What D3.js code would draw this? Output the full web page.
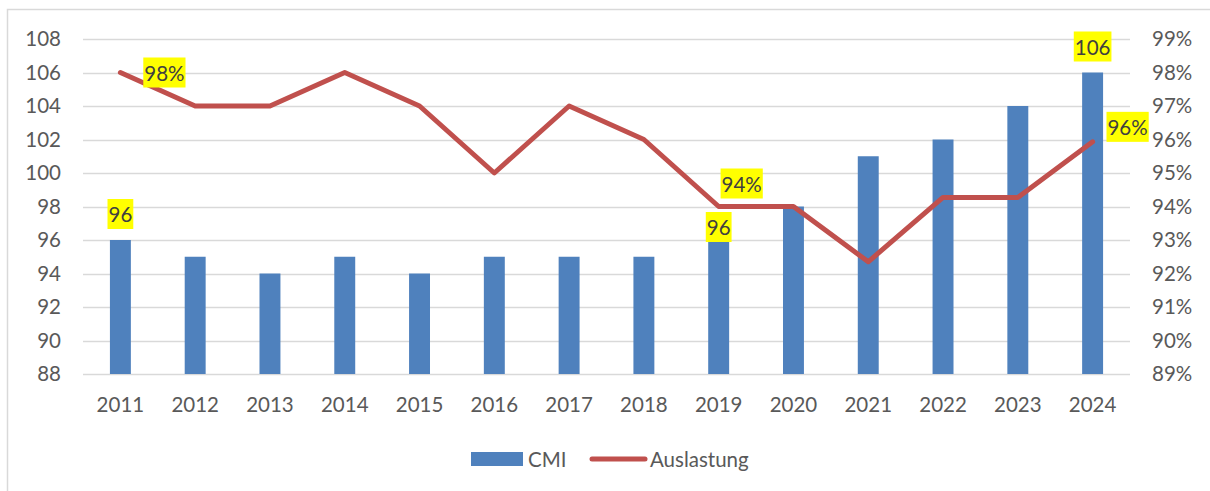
<!DOCTYPE html>
<html>
<head>
<meta charset="utf-8">
<script src="https://cdn.jsdelivr.net/npm/d3@7"></script>
<style>
    body { margin: 0; background: #fff; }
    svg text { font-family: Lato, "Open Sans", sans-serif; }
</style>
</head>
<body>
<div id="chart"></div>
<script>
// Daten
const years = ["2011", "2012", "2013", "2014", "2015", "2016", "2017", "2018", "2019", "2020", "2021", "2022", "2023", "2024"];
const cmi = [96, 95, 94, 95, 94, 95, 95, 95, 96, 98, 101, 102, 104, 106];
const auslastung = [0.98, 0.97, 0.97, 0.98, 0.97, 0.95, 0.97, 0.96, 0.94, 0.94, 0.9235, 0.9427, 0.9427, 0.9593];
const leftTicks = [88, 90, 92, 94, 96, 98, 100, 102, 104, 106, 108];
const rightTicks = [0.89, 0.90, 0.91, 0.92, 0.93, 0.94, 0.95, 0.96, 0.97, 0.98, 0.99];

// Beschriftungen (gelb hinterlegt)
const barLabels = [{ i: 0, dy: -11 }, { i: 8, dy: 2 }, { i: 13, dy: -11 }];
const lineLabels = [{ i: 0, dx: 23, dy: 0 }, { i: 8, dx: 2, dy: -23 }, { i: 13, dx: 14, dy: -15 }];

const COLORS = {
    bar: "#4F81BD",
    line: "#C0504D",
    grid: "#D9D9D9",
    text: "#595959",
    label: "#404040",
    labelBg: "#FFFF00"
};

const FONT = "20.5px";
const W = 1210, H = 491;
const plot = { left: 83, right: 1130, top: 39, bottom: 374 };

const svg = d3.select("#chart").append("svg")
    .attr("width", W)
    .attr("height", H);

// Rahmen
svg.append("rect")
    .attr("x", 7.5).attr("y", 9.5)
    .attr("width", 1220).attr("height", 500)
    .attr("fill", "none")
    .attr("stroke", COLORS.grid)
    .attr("stroke-width", 1.5);

const x = d3.scaleBand()
    .domain(years)
    .range([plot.left, plot.right])
    .paddingInner(0.72)
    .paddingOuter(0.36);

const yL = d3.scaleLinear().domain([88, 108]).range([plot.bottom, plot.top]);
const yR = d3.scaleLinear().domain([0.89, 0.99]).range([plot.bottom, plot.top]);

const cx = d => x(d) + x.bandwidth() / 2;

// Gitternetz
svg.append("g")
    .selectAll("line")
    .data(leftTicks)
    .join("line")
    .attr("x1", plot.left).attr("x2", plot.right)
    .attr("y1", d => Math.round(yL(d)) + 0.5)
    .attr("y2", d => Math.round(yL(d)) + 0.5)
    .attr("stroke", COLORS.grid)
    .attr("stroke-width", 1.5);

// Achsen
const axisL = svg.append("g")
    .attr("transform", `translate(${plot.left},0)`)
    .call(d3.axisLeft(yL).tickValues(leftTicks).tickSize(0).tickPadding(22));

const axisR = svg.append("g")
    .attr("transform", `translate(${plot.right},0)`)
    .call(d3.axisRight(yR).tickValues(rightTicks).tickSize(0).tickPadding(22).tickFormat(d3.format(".0%")));

const axisB = svg.append("g")
    .attr("transform", `translate(0,${plot.bottom})`)
    .call(d3.axisBottom(x).tickSize(0).tickPadding(23));

[axisL, axisR, axisB].forEach(a => {
    a.select(".domain").remove();
    a.selectAll("text")
        .style("fill", COLORS.text)
        .style("font-size", FONT);
});

// Balken
svg.append("g")
    .selectAll("rect")
    .data(cmi)
    .join("rect")
    .attr("x", (d, i) => x(years[i]))
    .attr("y", d => yL(d))
    .attr("width", x.bandwidth())
    .attr("height", d => yL(88) - yL(d))
    .attr("fill", COLORS.bar);

// Linie
const line = d3.line()
    .x((d, i) => cx(years[i]))
    .y(d => yR(d));

svg.append("path")
    .datum(auslastung)
    .attr("d", line)
    .attr("fill", "none")
    .attr("stroke", COLORS.line)
    .attr("stroke-width", 5)
    .attr("stroke-linecap", "round")
    .attr("stroke-linejoin", "round");

// Datenbeschriftungen
function addLabel(text, px, py) {
    const g = svg.append("g");
    const t = g.append("text")
        .attr("x", px).attr("y", py)
        .attr("text-anchor", "middle")
        .attr("dominant-baseline", "central")
        .style("fill", COLORS.label)
        .style("font-size", FONT)
        .text(text);
    const bb = t.node().getBBox();
    g.insert("rect", "text")
        .attr("x", bb.x - 1).attr("y", py - 15)
        .attr("width", bb.width + 2).attr("height", 30)
        .attr("fill", COLORS.labelBg);
}

barLabels.forEach(l => {
    addLabel(cmi[l.i], cx(years[l.i]), yL(cmi[l.i]) - 15 + l.dy);
});

lineLabels.forEach(l => {
    const txt = d3.format(".0%")(auslastung[l.i]);
    addLabel(txt, cx(years[l.i]) + l.dx + 21, yR(auslastung[l.i]) + l.dy);
});

// Legende
const legend = svg.append("g");
legend.append("rect")
    .attr("x", 471).attr("y", 452)
    .attr("width", 52).attr("height", 14)
    .attr("fill", COLORS.bar);
legend.append("text")
    .attr("x", 528).attr("y", 459)
    .attr("dominant-baseline", "central")
    .style("fill", COLORS.text)
    .style("font-size", FONT)
    .text("CMI");
legend.append("line")
    .attr("x1", 592).attr("x2", 645)
    .attr("y1", 459).attr("y2", 459)
    .attr("stroke", COLORS.line)
    .attr("stroke-width", 5)
    .attr("stroke-linecap", "round");
legend.append("text")
    .attr("x", 650).attr("y", 459)
    .attr("dominant-baseline", "central")
    .style("fill", COLORS.text)
    .style("font-size", FONT)
    .text("Auslastung");
</script>
</body>
</html>
